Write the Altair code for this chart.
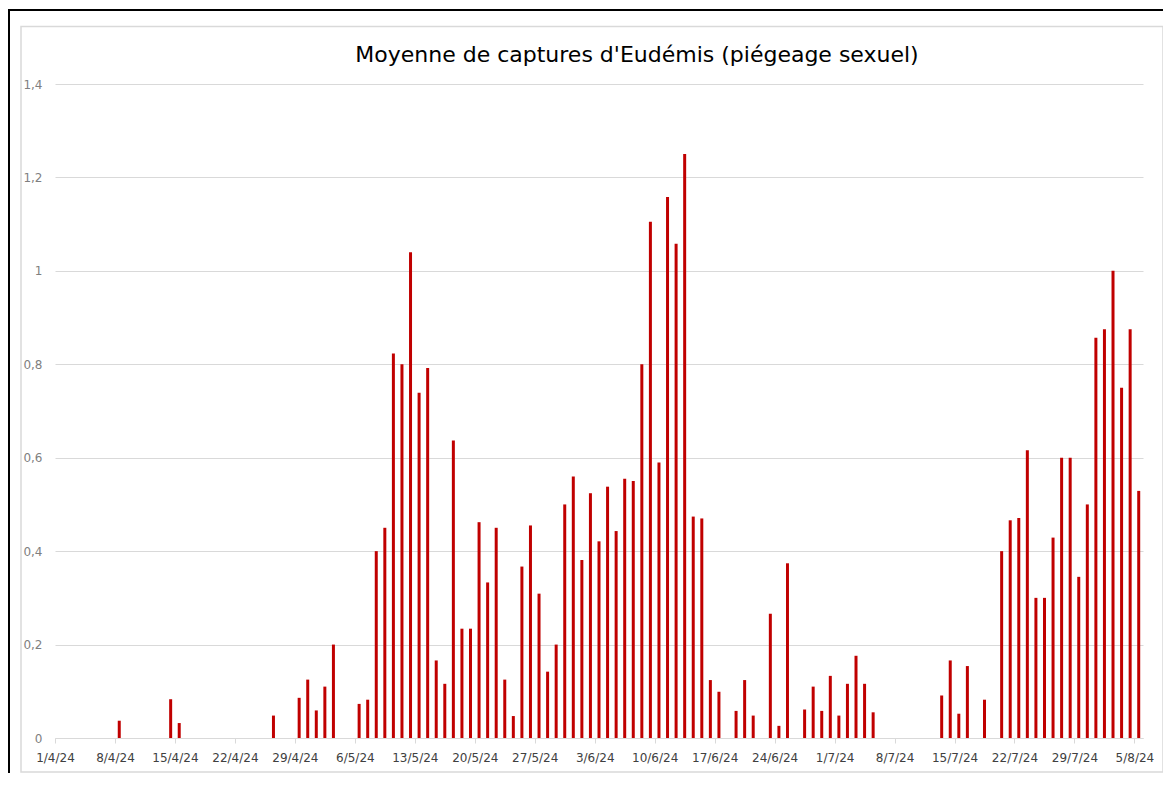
import altair as alt
import pandas as pd

# ---- data ----
dates = [
    "2024-04-08", "2024-04-14", "2024-04-15", "2024-04-26", "2024-04-29", "2024-04-30",
    "2024-05-01", "2024-05-02", "2024-05-03", "2024-05-06", "2024-05-07", "2024-05-08",
    "2024-05-09", "2024-05-10", "2024-05-11", "2024-05-12", "2024-05-13", "2024-05-14",
    "2024-05-15", "2024-05-16", "2024-05-17", "2024-05-18", "2024-05-19", "2024-05-20",
    "2024-05-21", "2024-05-22", "2024-05-23", "2024-05-24", "2024-05-25", "2024-05-26",
    "2024-05-27", "2024-05-28", "2024-05-29", "2024-05-30", "2024-05-31",
    "2024-06-01", "2024-06-02", "2024-06-03", "2024-06-04", "2024-06-05", "2024-06-06",
    "2024-06-07", "2024-06-08", "2024-06-09", "2024-06-10", "2024-06-11", "2024-06-12",
    "2024-06-13", "2024-06-14", "2024-06-15", "2024-06-16", "2024-06-17", "2024-06-19",
    "2024-06-20", "2024-06-21", "2024-06-23", "2024-06-24", "2024-06-25", "2024-06-27",
    "2024-06-28", "2024-06-29", "2024-06-30",
    "2024-07-01", "2024-07-02", "2024-07-03", "2024-07-04", "2024-07-05", "2024-07-13",
    "2024-07-14", "2024-07-15", "2024-07-16", "2024-07-18", "2024-07-20", "2024-07-21",
    "2024-07-22", "2024-07-23", "2024-07-24", "2024-07-25", "2024-07-26", "2024-07-27",
    "2024-07-28", "2024-07-29", "2024-07-30", "2024-07-31",
    "2024-08-01", "2024-08-02", "2024-08-03", "2024-08-04", "2024-08-05",
]
values = [
    0.037, 0.083, 0.032, 0.048, 0.086, 0.125,
    0.059, 0.11, 0.2, 0.073, 0.082, 0.4,
    0.45, 0.823, 0.8, 1.04, 0.739, 0.792,
    0.166, 0.116, 0.637, 0.234, 0.234, 0.462,
    0.333, 0.45, 0.125, 0.047, 0.367, 0.455,
    0.309, 0.142, 0.2, 0.5, 0.56,
    0.381, 0.524, 0.421, 0.538, 0.443, 0.555,
    0.55, 0.8, 1.105, 0.59, 1.158, 1.058,
    1.25, 0.474, 0.47, 0.124, 0.099, 0.058,
    0.124, 0.048, 0.266, 0.026, 0.374, 0.061,
    0.11, 0.058, 0.133,
    0.048, 0.116, 0.176, 0.116, 0.055, 0.091,
    0.166, 0.052, 0.154, 0.082, 0.4, 0.466,
    0.471, 0.616, 0.3, 0.3, 0.429, 0.6,
    0.6, 0.345, 0.5, 0.857,
    0.875, 1.0, 0.75, 0.875, 0.529,
]
x_ticks = [
    "2024-04-01", "2024-04-08", "2024-04-15", "2024-04-22", "2024-04-29",
    "2024-05-06", "2024-05-13", "2024-05-20", "2024-05-27", "2024-06-03",
    "2024-06-10", "2024-06-17", "2024-06-24", "2024-07-01", "2024-07-08",
    "2024-07-15", "2024-07-22", "2024-07-29", "2024-08-05",
]
y_ticks = [0, 0.2, 0.4, 0.6, 0.8, 1.0, 1.2, 1.4]
domain_start = "2024-04-01"
domain_end = "2024-08-06"
title_text = ["Moyenne de captures d'Eudémis (piégeage sexuel)"]


def dt(s):
    y, m, d = (int(p) for p in s.split("-"))
    return alt.DateTime(year=y, month=m, date=d, utc=True)


df = pd.DataFrame({"date": dates, "value": values})
one = pd.DataFrame({"k": [0]})
title_df = pd.DataFrame({"t": title_text})

FONT = "DejaVu Sans"
W, H = 1088, 654

x_scale = alt.Scale(
    type="utc", domain=[dt(domain_start), dt(domain_end)], nice=False, padding=0
)

bars = (
    alt.Chart(df)
    .transform_calculate(mid="toDate(datum.date) + 43200000")
    .mark_bar(size=3, color="#C00000")
    .encode(
        x=alt.X(
            "mid:T",
            scale=x_scale,
            axis=alt.Axis(
                values=[dt(s) for s in x_ticks],
                labelExpr="utcFormat(datum.value, '%-d/%-m/%y')",
                grid=False,
                domainColor="#D9D9D9",
                tickColor="#D9D9D9",
                tickSize=5,
                labelColor="#404040",
                labelFontSize=12,
                labelFont=FONT,
                labelPadding=9,
                labelOverlap=False,
                labelFlush=False,
                title=None,
            ),
        ),
        y=alt.Y(
            "value:Q",
            scale=alt.Scale(domain=[0, 1.4], nice=False),
            axis=alt.Axis(
                values=y_ticks,
                labelExpr="replace(format(datum.value, '.1~f'), '.', ',')",
                grid=True,
                gridColor="#D9D9D9",
                domain=False,
                ticks=False,
                labelPadding=13,
                labelColor="#7F7F7F",
                labelFontSize=12,
                labelFont=FONT,
                title=None,
            ),
        ),
    )
)

gray_frame = alt.Chart(one).mark_rect(
    fill="white", fillOpacity=0, stroke="#D9D9D9", strokeWidth=1.5
).encode(
    x=alt.value(-34), x2=alt.value(1108), y=alt.value(-57.5), y2=alt.value(688)
)
black_left = alt.Chart(one).mark_rule(color="black", strokeWidth=2).encode(
    x=alt.value(-46), y=alt.value(-75), y2=alt.value(720)
)
black_top = alt.Chart(one).mark_rule(color="black", strokeWidth=2).encode(
    x=alt.value(-47), x2=alt.value(1130), y=alt.value(-74)
)
title = alt.Chart(title_df).mark_text(
    font=FONT, fontSize=22, color="#000000", align="center", baseline="alphabetic"
).encode(x=alt.value(582), y=alt.value(-22), text="t:N")

chart = (
    alt.layer(gray_frame, black_left, black_top, title, bars)
    .properties(
        width=W,
        height=H,
        background="white",
        autosize=alt.AutoSizeParams(type="none"),
        padding={"left": 47, "top": 76, "right": 20, "bottom": 35},
    )
    .configure_view(stroke="transparent", strokeWidth=0)
)

chart.save("out.html", embed_options={"renderer": "svg", "actions": False})
